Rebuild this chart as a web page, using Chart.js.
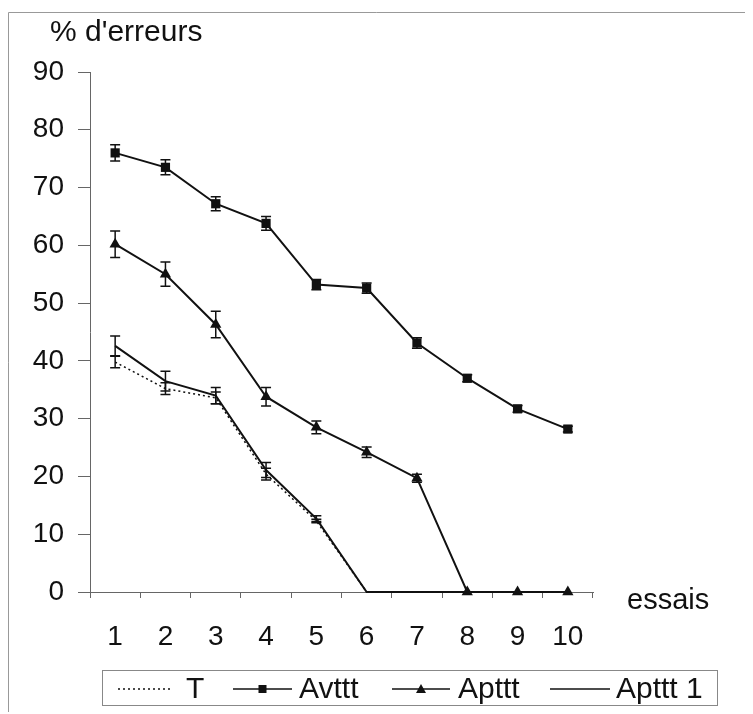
<!DOCTYPE html>
<html>
<head>
<meta charset="utf-8">
<script src="https://cdn.jsdelivr.net/npm/chart.js@4.4.1/dist/chart.umd.min.js"></script>
<style>
  body { margin: 0; background: #fff; }
  #wrap { width: 753px; height: 714px; position: relative; }
</style>
</head>
<body>
<div id="wrap"><canvas id="chart" width="753" height="714"></canvas></div>
<script>
// essais 1..10
var essais = ['1', '2', '3', '4', '5', '6', '7', '8', '9', '10'];
var yTicks = [0, 10, 20, 30, 40, 50, 60, 70, 80, 90];

// % d'erreurs par groupe
var tValues      = [39.8, 35.2, 33.6, 20.4, 12.3, 0, 0, 0, 0, 0];
var avtttValues  = [76.0, 73.5, 67.2, 63.8, 53.2, 52.6, 43.1, 37.0, 31.7, 28.2];
var aptttValues  = [60.2, 55.0, 46.3, 33.8, 28.5, 24.2, 19.7, 0, 0, 0];
var apttt1Values = [42.6, 36.5, 34.0, 21.1, 12.7, 0, 0, 0, 0, 0];

// erreurs standard (demi-barres)
var tErr      = [1.0, 1.0, 1.0, 1.0, 0.3, 0, 0, 0, 0, 0];
var avtttErr  = [1.4, 1.3, 1.2, 1.2, 0.9, 0.9, 0.9, 0.6, 0.6, 0.5];
var aptttErr  = [2.3, 2.1, 2.3, 1.6, 1.1, 0.9, 0.7, 0, 0, 0];
var apttt1Err = [1.7, 1.7, 1.4, 1.3, 0.5, 0, 0, 0, 0, 0];

var FONT = '"Liberation Sans", Arial, sans-serif';
var INK = '#111';

var errorBars = {
  id: 'errorBars',
  afterDatasetsDraw: function(chart) {
    var ctx = chart.ctx;
    var yScale = chart.scales.y;
    ctx.save();
    ctx.strokeStyle = INK;
    ctx.lineWidth = 1.5;
    chart.data.datasets.forEach(function(ds, di) {
      var meta = chart.getDatasetMeta(di);
      ds.errors.forEach(function(e, i) {
        if (!e) return;
        var pt = meta.data[i];
        var top = yScale.getPixelForValue(ds.data[i] + e);
        var bot = yScale.getPixelForValue(ds.data[i] - e);
        ctx.beginPath();
        ctx.moveTo(pt.x, top); ctx.lineTo(pt.x, bot);
        ctx.moveTo(pt.x - 5, top); ctx.lineTo(pt.x + 5, top);
        ctx.moveTo(pt.x - 5, bot); ctx.lineTo(pt.x + 5, bot);
        ctx.stroke();
      });
    });
    ctx.restore();
  }
};

var decorations = {
  id: 'decorations',
  afterDraw: function(chart) {
    var ctx = chart.ctx;
    ctx.save();
    // faint frame (top and left)
    ctx.strokeStyle = '#999';
    ctx.lineWidth = 1;
    ctx.beginPath();
    ctx.moveTo(8.5, 712); ctx.lineTo(8.5, 12.5); ctx.lineTo(745, 12.5);
    ctx.stroke();

    ctx.fillStyle = INK;
    ctx.font = '30px ' + FONT;
    ctx.textBaseline = 'middle';
    ctx.textAlign = 'left';
    ctx.fillText("% d'erreurs", 50, 33);
    ctx.font = '29px ' + FONT;
    ctx.fillText('essais', 627, 601);

    // legend
    ctx.strokeStyle = '#888';
    ctx.lineWidth = 1;
    ctx.strokeRect(102.5, 670.5, 615, 35);
    var cy = 689;
    var items = [
      { x0: 118, x1: 172, tx: 186 },
      { x0: 233, x1: 292, tx: 299 },
      { x0: 392, x1: 450, tx: 458 },
      { x0: 550, x1: 610, tx: 616 }
    ];
    chart.data.datasets.forEach(function(ds, i) {
      var it = items[i];
      ctx.strokeStyle = INK;
      ctx.fillStyle = INK;
      ctx.lineWidth = 1.5;
      ctx.setLineDash(ds.borderDash || []);
      ctx.beginPath();
      ctx.moveTo(it.x0, cy); ctx.lineTo(it.x1, cy);
      ctx.stroke();
      ctx.setLineDash([]);
      var mx = (it.x0 + it.x1) / 2;
      if (ds.pointStyle === 'rect') {
        ctx.fillRect(mx - 4, cy - 4, 8, 8);
      } else if (ds.pointStyle === 'triangle') {
        ctx.beginPath();
        ctx.moveTo(mx, cy - 5); ctx.lineTo(mx + 5, cy + 4); ctx.lineTo(mx - 5, cy + 4);
        ctx.closePath(); ctx.fill();
      }
      ctx.font = '30px ' + FONT;
      ctx.fillText(ds.label, it.tx, cy + 1);
    });
    ctx.restore();
  }
};

new Chart(document.getElementById('chart'), {
  type: 'line',
  data: {
    labels: essais,
    datasets: [
      { label: 'T', data: tValues, errors: tErr, borderColor: INK, borderWidth: 1.5,
        borderDash: [2, 3], pointRadius: 0, pointStyle: false, clip: false },
      { label: 'Avttt', data: avtttValues, errors: avtttErr, borderColor: INK, borderWidth: 2,
        pointStyle: 'rect', pointRadius: 6.5, backgroundColor: INK, pointBorderWidth: 0, clip: false },
      { label: 'Apttt', data: aptttValues, errors: aptttErr, borderColor: INK, borderWidth: 2,
        pointStyle: 'triangle', pointRadius: 6.5, backgroundColor: INK, pointBorderWidth: 0, clip: false },
      { label: 'Apttt 1', data: apttt1Values, errors: apttt1Err, borderColor: INK, borderWidth: 2,
        pointRadius: 0, pointStyle: false, clip: false }
    ]
  },
  options: {
    responsive: false,
    animation: false,
    layout: { padding: { left: 0, right: 160, top: 72, bottom: 62 } },
    plugins: { legend: { display: false }, tooltip: { enabled: false } },
    scales: {
      x: {
        offset: true,
        grid: { display: true, drawOnChartArea: false, drawTicks: true, tickLength: 6, color: '#666', offset: true },
        border: { display: true, color: '#666', width: 1 },
        ticks: { color: INK, font: { family: FONT, size: 28 }, padding: 22, maxRotation: 0 },
        afterFit: function(s) { s.height = 60; }
      },
      y: {
        min: 0, max: 90,
        afterBuildTicks: function(s) { s.ticks = yTicks.map(function(v) { return { value: v }; }); },
        grid: { display: true, drawOnChartArea: false, drawTicks: true, tickLength: 12, color: '#666' },
        border: { display: true, color: '#666', width: 1 },
        ticks: { color: INK, font: { family: FONT, size: 28 }, padding: 14 },
        afterFit: function(s) { s.width = 90; }
      }
    }
  },
  plugins: [errorBars, decorations]
});
</script>
</body>
</html>
